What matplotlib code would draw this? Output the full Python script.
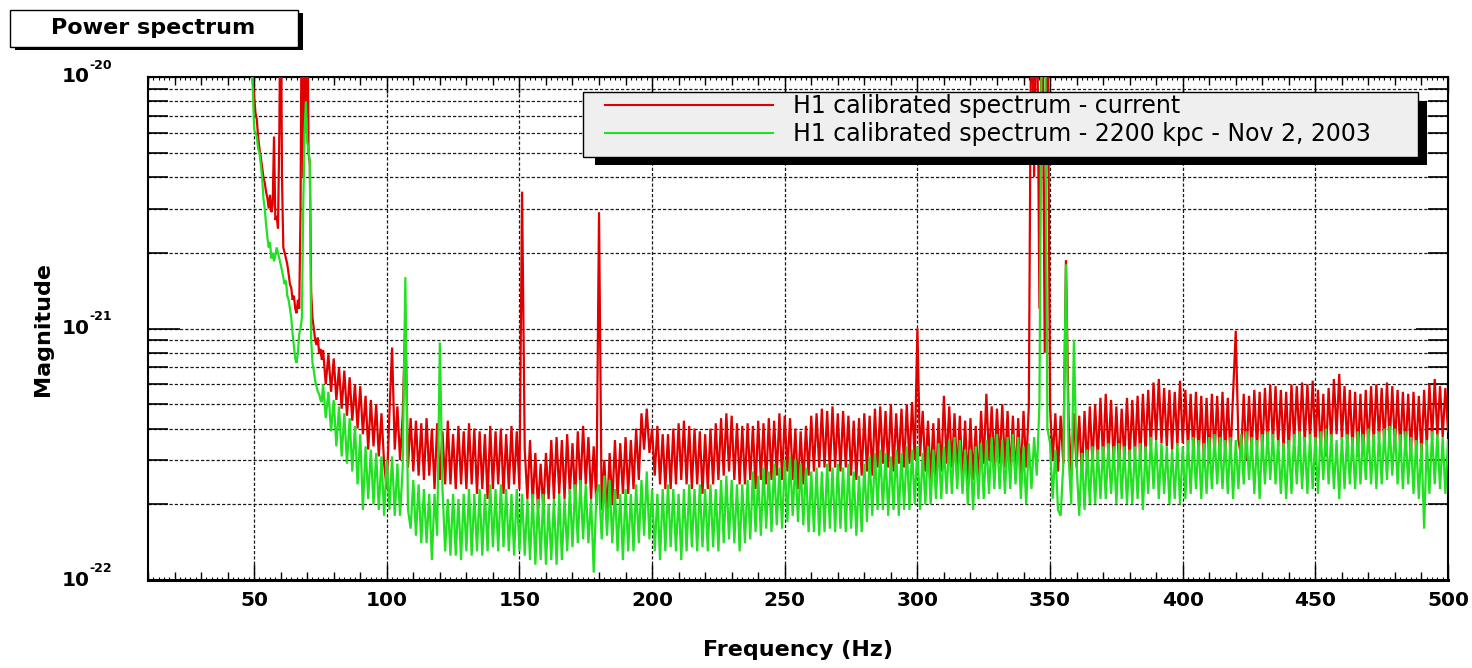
import numpy as np
import matplotlib
matplotlib.use("Agg")
import matplotlib.pyplot as plt
from matplotlib.patches import Rectangle
from matplotlib.ticker import MultipleLocator, LogLocator, NullFormatter

# ---------------- data (magnitude in units of 1e-22) ----------------
UNIT = 1e-22
low_start, low_step = 48.5, 0.5      # low-frequency part, 48.5 .. 75.5 Hz
high_start, high_step = 76, 1.0      # rest, 76 .. 500 Hz

red_low = [200, 130, 95, 85, 72, 68, 58, 52, 48, 44,
           40, 38, 35, 33, 30, 34, 29, 31, 58, 27,
           28, 25, 60, 300, 40, 21, 20, 19, 18, 16.5,
           15, 14.5, 13, 13.5, 12, 11.5, 13, 12, 30, 300,
           40, 300, 60, 300, 50, 45, 14, 11, 10, 9,
           8.6, 9.2, 8, 8.3, 7.5]
green_low = [200, 120, 90, 62, 60, 58, 52, 50, 45, 40,
             33, 30, 26, 23, 21, 22, 19, 20, 18.5, 19.5,
             21, 20, 19, 18, 17, 16, 15, 15.5, 13.5, 13,
             12, 11, 9.5, 8.5, 7.6, 7.3, 8.0, 9.5, 10, 11,
             30, 60, 80, 55, 52, 45, 9, 7.3, 6.8, 6.2,
             5.9, 5.6, 5.5, 5.2, 5.1]

red_high = [
    8.2, 6.0, 7.9, 5.6, 7.6, 5.2, 7.0, 4.8, 6.8, 4.5,   # 76
    6.4, 4.3, 6.0, 4.0, 5.9, 3.8, 5.4, 3.3, 5.2, 3.4,   # 86
    5.0, 3.1, 4.6, 2.9, 2.3, 4.6, 8.4, 3.3, 4.9, 3.0,   # 96
    4.5, 11.0, 2.8, 4.4, 2.7, 4.3, 2.6, 4.2, 2.5, 4.4,  # 106
    2.6, 4.0, 2.3, 4.2, 2.5, 3.9, 2.4, 4.3, 2.4, 3.8,   # 116
    2.3, 4.1, 2.4, 3.9, 2.3, 4.2, 2.4, 4.0, 2.2, 3.9,   # 126
    2.3, 3.8, 2.1, 4.1, 2.3, 3.9, 2.4, 4.0, 2.2, 3.8,   # 136
    2.3, 4.1, 2.4, 3.9, 2.3, 35.0, 3.3, 2.1, 3.6, 2.0,  # 146
    3.2, 1.9, 2.9, 1.9, 3.2, 2.1, 3.6, 2.1, 3.7, 2.2,   # 156
    3.6, 2.1, 3.8, 2.2, 3.5, 2.1, 3.9, 2.3, 4.1, 2.4,   # 166
    3.7, 2.1, 3.4, 2.0, 29.0, 1.9, 3.0, 1.8, 3.2, 2.0,  # 176
    3.6, 2.1, 3.5, 2.2, 3.7, 2.2, 3.6, 2.3, 4.0, 2.5,   # 186
    4.6, 3.3, 4.8, 3.2, 4.0, 2.6, 4.1, 2.4, 3.8, 2.3,   # 196
    3.8, 2.3, 4.0, 2.4, 4.2, 2.5, 4.3, 2.4, 4.1, 2.3,   # 206
    4.0, 2.4, 3.9, 2.2, 3.8, 2.3, 4.0, 2.4, 4.2, 2.5,   # 216
    4.4, 2.6, 4.6, 2.7, 4.5, 2.5, 4.2, 2.4, 4.1, 2.4,   # 226
    4.2, 2.5, 4.1, 2.3, 4.3, 2.5, 4.2, 2.4, 4.4, 2.5,   # 236
    4.3, 2.6, 4.6, 2.5, 4.5, 2.7, 4.4, 2.5, 4.0, 2.3,   # 246
    3.9, 2.4, 4.1, 2.6, 4.5, 2.7, 4.6, 2.8, 4.8, 2.8,   # 256
    4.7, 2.7, 4.9, 2.8, 4.6, 2.7, 4.7, 2.8, 4.5, 2.6,   # 266
    4.3, 2.5, 4.4, 2.6, 4.6, 2.7, 4.5, 2.6, 4.8, 2.8,   # 276
    4.9, 2.9, 4.7, 2.8, 5.0, 2.7, 4.6, 2.9, 4.8, 2.8,   # 286
    5.0, 2.9, 5.1, 3.0, 10.0, 3.1, 4.7, 2.7, 4.3, 2.5,  # 296
    4.2, 2.4, 4.4, 2.7, 5.4, 2.9, 4.9, 2.8, 4.6, 2.6,   # 306
    4.5, 2.5, 4.3, 2.4, 4.4, 2.5, 4.1, 2.4, 4.7, 2.9,   # 316
    5.5, 3.0, 4.9, 2.8, 4.8, 2.9, 5.0, 2.8, 4.7, 2.6,   # 326
    4.5, 2.5, 4.4, 2.6, 4.7, 2.8, 4.9, 300, 40, 300,    # 336
    12, 300, 8, 300, 4.9, 3.0, 4.6, 2.7, 4.5, 2.9,      # 346
    18.7, 4.3, 2.6, 4.6, 2.8, 4.5, 2.6, 4.7, 2.8, 4.9,  # 356
    2.9, 5.0, 3.0, 5.3, 3.0, 5.5, 3.1, 5.2, 2.9, 4.9,   # 366
    2.8, 4.8, 3.0, 5.3, 3.0, 5.2, 3.1, 5.4, 3.0, 5.5,   # 376
    3.2, 5.7, 3.3, 6.1, 3.6, 6.3, 3.5, 5.8, 3.4, 5.7,   # 386
    3.3, 5.6, 3.4, 6.2, 3.5, 5.7, 3.3, 5.5, 3.2, 5.6,   # 396
    3.1, 5.4, 3.0, 5.3, 2.9, 5.5, 3.1, 5.4, 3.0, 5.6,   # 406
    3.2, 5.3, 3.1, 5.5, 9.8, 3.6, 3.1, 5.5, 3.0, 5.4,   # 416
    3.2, 5.7, 3.3, 5.6, 3.2, 5.8, 3.4, 6.0, 3.5, 5.9,   # 426
    3.4, 5.7, 3.3, 5.6, 3.2, 6.0, 3.5, 5.9, 3.6, 6.1,   # 436
    3.5, 6.0, 3.6, 6.2, 3.4, 5.7, 3.2, 5.5, 3.1, 5.8,   # 446
    3.5, 6.3, 3.8, 6.6, 3.6, 5.9, 3.4, 5.7, 3.3, 5.6,   # 456
    3.1, 5.5, 3.2, 5.7, 3.3, 5.9, 3.5, 6.0, 3.6, 5.8,   # 466
    3.4, 6.1, 3.5, 5.9, 3.4, 5.7, 3.3, 5.6, 3.2, 5.5,   # 476
    3.1, 5.6, 3.2, 5.4, 3.1, 5.7, 3.4, 6.0, 3.6, 6.3,   # 486
    3.7, 5.9, 3.7, 5.8, 3.9]                            # 496

green_high = [
    6.0, 4.4, 5.6, 3.9, 5.2, 3.4, 4.9, 3.1, 4.6, 2.9,   # 76
    4.4, 2.7, 4.1, 2.4, 3.8, 1.9, 3.4, 2.1, 3.3, 2.0,   # 86
    3.2, 1.9, 3.1, 1.8, 3.0, 1.9, 3.1, 1.8, 2.9, 1.8,   # 96
    2.8, 16.0, 1.9, 1.6, 2.5, 1.5, 2.4, 1.4, 2.3, 1.4,  # 106
    2.2, 1.2, 2.2, 1.5, 8.8, 2.3, 1.3, 2.1, 1.25, 2.2,  # 116
    1.25, 2.1, 1.2, 2.2, 1.3, 2.3, 1.25, 2.2, 1.3, 2.3,  # 126
    1.25, 2.2, 1.3, 2.4, 1.35, 2.3, 1.3, 2.4, 1.35, 2.3,  # 136
    1.3, 2.2, 1.25, 2.3, 1.3, 2.2, 1.25, 2.1, 1.2, 2.2,  # 146
    1.15, 2.1, 1.2, 2.2, 1.15, 2.0, 1.2, 2.1, 1.15, 2.2,  # 156
    1.2, 2.1, 1.3, 2.3, 1.35, 2.4, 1.4, 2.5, 1.45, 2.4,  # 166
    1.4, 2.1, 1.07, 2.2, 2.4, 1.45, 2.6, 1.5, 2.5, 1.4,  # 176
    2.3, 1.3, 2.2, 1.2, 2.3, 1.3, 2.2, 1.3, 2.4, 1.4,   # 186
    2.5, 1.5, 2.7, 1.45, 2.3, 1.3, 2.2, 1.2, 2.3, 1.3,  # 196
    2.4, 1.35, 2.3, 1.3, 2.2, 1.2, 2.3, 1.3, 2.4, 1.35,  # 206
    2.3, 1.3, 2.4, 1.35, 2.3, 1.3, 2.4, 1.35, 2.3, 1.3,  # 216
    2.5, 1.4, 2.6, 1.45, 2.5, 1.4, 2.4, 1.3, 2.4, 1.4,  # 226
    2.5, 1.45, 2.7, 1.55, 2.6, 1.5, 2.8, 1.6, 2.7, 1.55,  # 236
    2.9, 1.65, 2.8, 1.6, 3.0, 1.7, 3.1, 1.8, 3.0, 1.7,  # 246
    2.9, 1.65, 2.8, 1.55, 2.7, 1.55, 2.8, 1.5, 2.7, 1.55,  # 256
    2.9, 1.6, 2.8, 1.55, 2.9, 1.6, 2.8, 1.55, 2.9, 1.6,  # 266
    2.7, 1.5, 2.6, 1.55, 2.9, 1.7, 3.1, 1.8, 3.2, 1.9,  # 276
    3.3, 1.9, 3.2, 1.8, 3.1, 1.9, 3.3, 1.8, 3.2, 1.9,   # 286
    3.4, 1.9, 3.3, 2.0, 3.4, 1.9, 3.2, 2.0, 3.4, 2.0,   # 296
    3.3, 2.1, 3.5, 2.1, 3.4, 2.2, 3.6, 2.2, 3.7, 2.3,   # 306
    3.6, 2.2, 3.3, 2.0, 3.3, 1.9, 3.4, 2.1, 3.5, 2.1,   # 316
    3.6, 2.2, 3.7, 2.3, 3.8, 2.3, 3.6, 2.2, 3.7, 2.3,   # 326
    3.8, 2.4, 3.7, 2.1, 3.4, 2.0, 3.5, 2.3, 3.7, 2.6,   # 336
    5.0, 300, 300, 4.0, 3.5, 2.1, 3.3, 1.9, 1.8, 2.9,   # 346
    18.0, 3.1, 2.0, 9.0, 2.9, 1.8, 3.2, 1.9, 3.3, 2.0,  # 356
    3.4, 2.0, 3.3, 2.1, 3.4, 2.1, 3.5, 2.2, 3.4, 2.0,   # 366
    3.5, 2.1, 3.4, 2.0, 3.3, 2.0, 3.4, 2.1, 3.5, 1.9,   # 376
    3.4, 2.2, 3.7, 2.3, 3.6, 2.1, 3.5, 2.2, 3.4, 2.0,   # 386
    3.3, 2.1, 3.5, 2.0, 3.4, 2.1, 3.6, 2.2, 3.7, 2.3,   # 396
    3.6, 2.1, 3.5, 2.2, 3.7, 2.3, 3.8, 2.4, 3.7, 2.3,   # 406
    3.6, 2.2, 3.7, 2.1, 3.6, 2.3, 3.8, 2.4, 3.9, 2.5,   # 416
    3.7, 2.2, 3.6, 2.1, 3.8, 2.4, 3.9, 2.5, 3.8, 2.4,   # 426
    3.6, 2.2, 3.5, 2.1, 3.6, 2.2, 3.8, 2.4, 3.9, 2.3,   # 436
    3.7, 2.2, 3.8, 2.3, 3.7, 2.2, 3.9, 2.5, 4.0, 2.4,   # 446
    3.8, 2.3, 3.6, 2.1, 3.7, 2.3, 3.8, 2.4, 3.7, 2.3,   # 456
    3.9, 2.4, 3.8, 2.5, 4.0, 2.4, 3.8, 2.3, 3.9, 2.4,   # 466
    4.0, 2.5, 4.1, 2.6, 4.0, 2.4, 3.8, 2.3, 3.9, 2.4,   # 476
    3.7, 2.2, 3.6, 2.1, 3.5, 1.6, 3.6, 2.2, 3.9, 2.4,   # 486
    3.8, 2.3, 3.7, 2.2, 3.6]                            # 496

series_labels = ["H1 calibrated spectrum - current",
                 "H1 calibrated spectrum - 2200 kpc - Nov 2, 2003"]
x_range = (10, 500)
y_decades = [-22, -21, -20]
title_text = "Power spectrum"
x_title = "Frequency (Hz)"
y_title = "Magnitude"

# ---------------- assemble ----------------
def build(low, high):
    f_low = low_start + low_step * np.arange(len(low))
    f_high = high_start + high_step * np.arange(len(high))
    return (np.concatenate([f_low, f_high]),
            np.concatenate([np.asarray(low, float), np.asarray(high, float)]) * UNIT)

f_red, v_red = build(red_low, red_high)
f_green, v_green = build(green_low, green_high)

W, H = 1472, 668
fig = plt.figure(figsize=(W / 100, H / 100), dpi=100)
fig.patch.set_facecolor("white")

def fx(px):
    return px / W

def fy(py):
    return 1 - py / H

ax = fig.add_axes([fx(148), fy(580), fx(1448) - fx(148), fy(77) - fy(580)])
ax.set_yscale("log")

RED = "#e00000"
GREEN = "#22e022"
l_red, = ax.plot(f_red, v_red, color=RED, lw=1.6, zorder=3,
                 solid_joinstyle="miter")
l_green, = ax.plot(f_green, v_green, color=GREEN, lw=1.6, zorder=4,
                   solid_joinstyle="miter")

ax.set_xlim(*x_range)
ax.set_ylim(10.0 ** y_decades[0], 10.0 ** y_decades[-1])

# x ticks
ax.xaxis.set_major_locator(MultipleLocator(50))
ax.xaxis.set_minor_locator(MultipleLocator(10))
ax.tick_params(axis="x", which="major", direction="in", length=11.5, width=1.0,
               top=True, bottom=True, labelsize=14.5, pad=8)
ax.tick_params(axis="x", which="minor", direction="in", length=5.5, width=1.0,
               top=True, bottom=True)
plt.setp(ax.get_xticklabels(), fontweight="bold")

for side in ("bottom", "top"):
    sec = ax.secondary_xaxis(side)
    sec.set_xticks([])
    sec.xaxis.set_minor_locator(MultipleLocator(2))
    sec.tick_params(which="minor", direction="in", length=2.5, width=0.8)
    for sp in sec.spines.values():
        sp.set_linewidth(0)

# y ticks
ax.yaxis.set_major_locator(LogLocator(base=10, numticks=10))
ax.yaxis.set_minor_locator(LogLocator(base=10, subs=np.arange(2, 10), numticks=10))
ax.yaxis.set_major_formatter(NullFormatter())
ax.yaxis.set_minor_formatter(NullFormatter())
ax.tick_params(axis="y", which="major", direction="in", length=23, width=1.2,
               left=True, right=True)
ax.tick_params(axis="y", which="minor", direction="in", length=14.5, width=1.2,
               left=True, right=True)

for d in y_decades:
    ax.annotate("10", xy=(0, 10.0 ** d), xycoords=("axes fraction", "data"),
                xytext=(-42, 0), textcoords="offset points", ha="right",
                va="center", fontsize=14.5, fontweight="bold")
    ax.annotate(str(d), xy=(0, 10.0 ** d), xycoords=("axes fraction", "data"),
                xytext=(-42, 8.5), textcoords="offset points", ha="left",
                va="center", fontsize=9, fontweight="bold")

# grid
ax.set_axisbelow(True)
grid_kw = dict(linestyle=(0, (2.6, 1.6)), linewidth=0.9, color="#1a1a1a")
ax.grid(True, axis="y", which="both", **grid_kw)
ax.grid(True, axis="x", which="major", **grid_kw)

for name, sp in ax.spines.items():
    sp.set_linewidth(2.2 if name == "bottom" else 1.5)
    sp.set_color("black")

# axis titles
fig.text(fx(798), fy(650), x_title, ha="center", va="center",
         fontsize=16, fontweight="bold")
fig.text(fx(43), fy(329), y_title, ha="center", va="center", rotation=90,
         fontsize=16, fontweight="bold")

# title box with shadow
fig.patches.append(Rectangle((fx(15), fy(50)), fx(303) - fx(15), fy(13) - fy(50),
                             transform=fig.transFigure, facecolor="black",
                             edgecolor="none", zorder=1))
fig.patches.append(Rectangle((fx(10), fy(47)), fx(298) - fx(10), fy(10) - fy(47),
                             transform=fig.transFigure, facecolor="white",
                             edgecolor="black", lw=1.0, zorder=2))
fig.text(fx(153), fy(28), title_text, ha="center", va="center",
         fontsize=16, fontweight="bold", zorder=3)

# legend box with shadow
fig.patches.append(Rectangle((fx(595), fy(165)), fx(1427) - fx(595), fy(101) - fy(165),
                             transform=fig.transFigure, facecolor="black",
                             edgecolor="none", zorder=1))
fig.patches.append(Rectangle((fx(583), fy(157)), fx(1418) - fx(583), fy(92) - fy(157),
                             transform=fig.transFigure, facecolor="#efefef",
                             edgecolor="black", lw=1.0, zorder=2))
leg = fig.legend([l_red, l_green], series_labels, loc="upper left",
                 bbox_to_anchor=(fx(605), fy(94)), bbox_transform=fig.transFigure,
                 frameon=False, borderpad=0, borderaxespad=0,
                 handlelength=7.1, handletextpad=0.85, labelspacing=0.19,
                 fontsize=17)
leg.set_zorder(5)
for h in leg.legend_handles:
    h.set_linewidth(1.5)

fig.savefig("out.png", dpi=100, facecolor="white")
